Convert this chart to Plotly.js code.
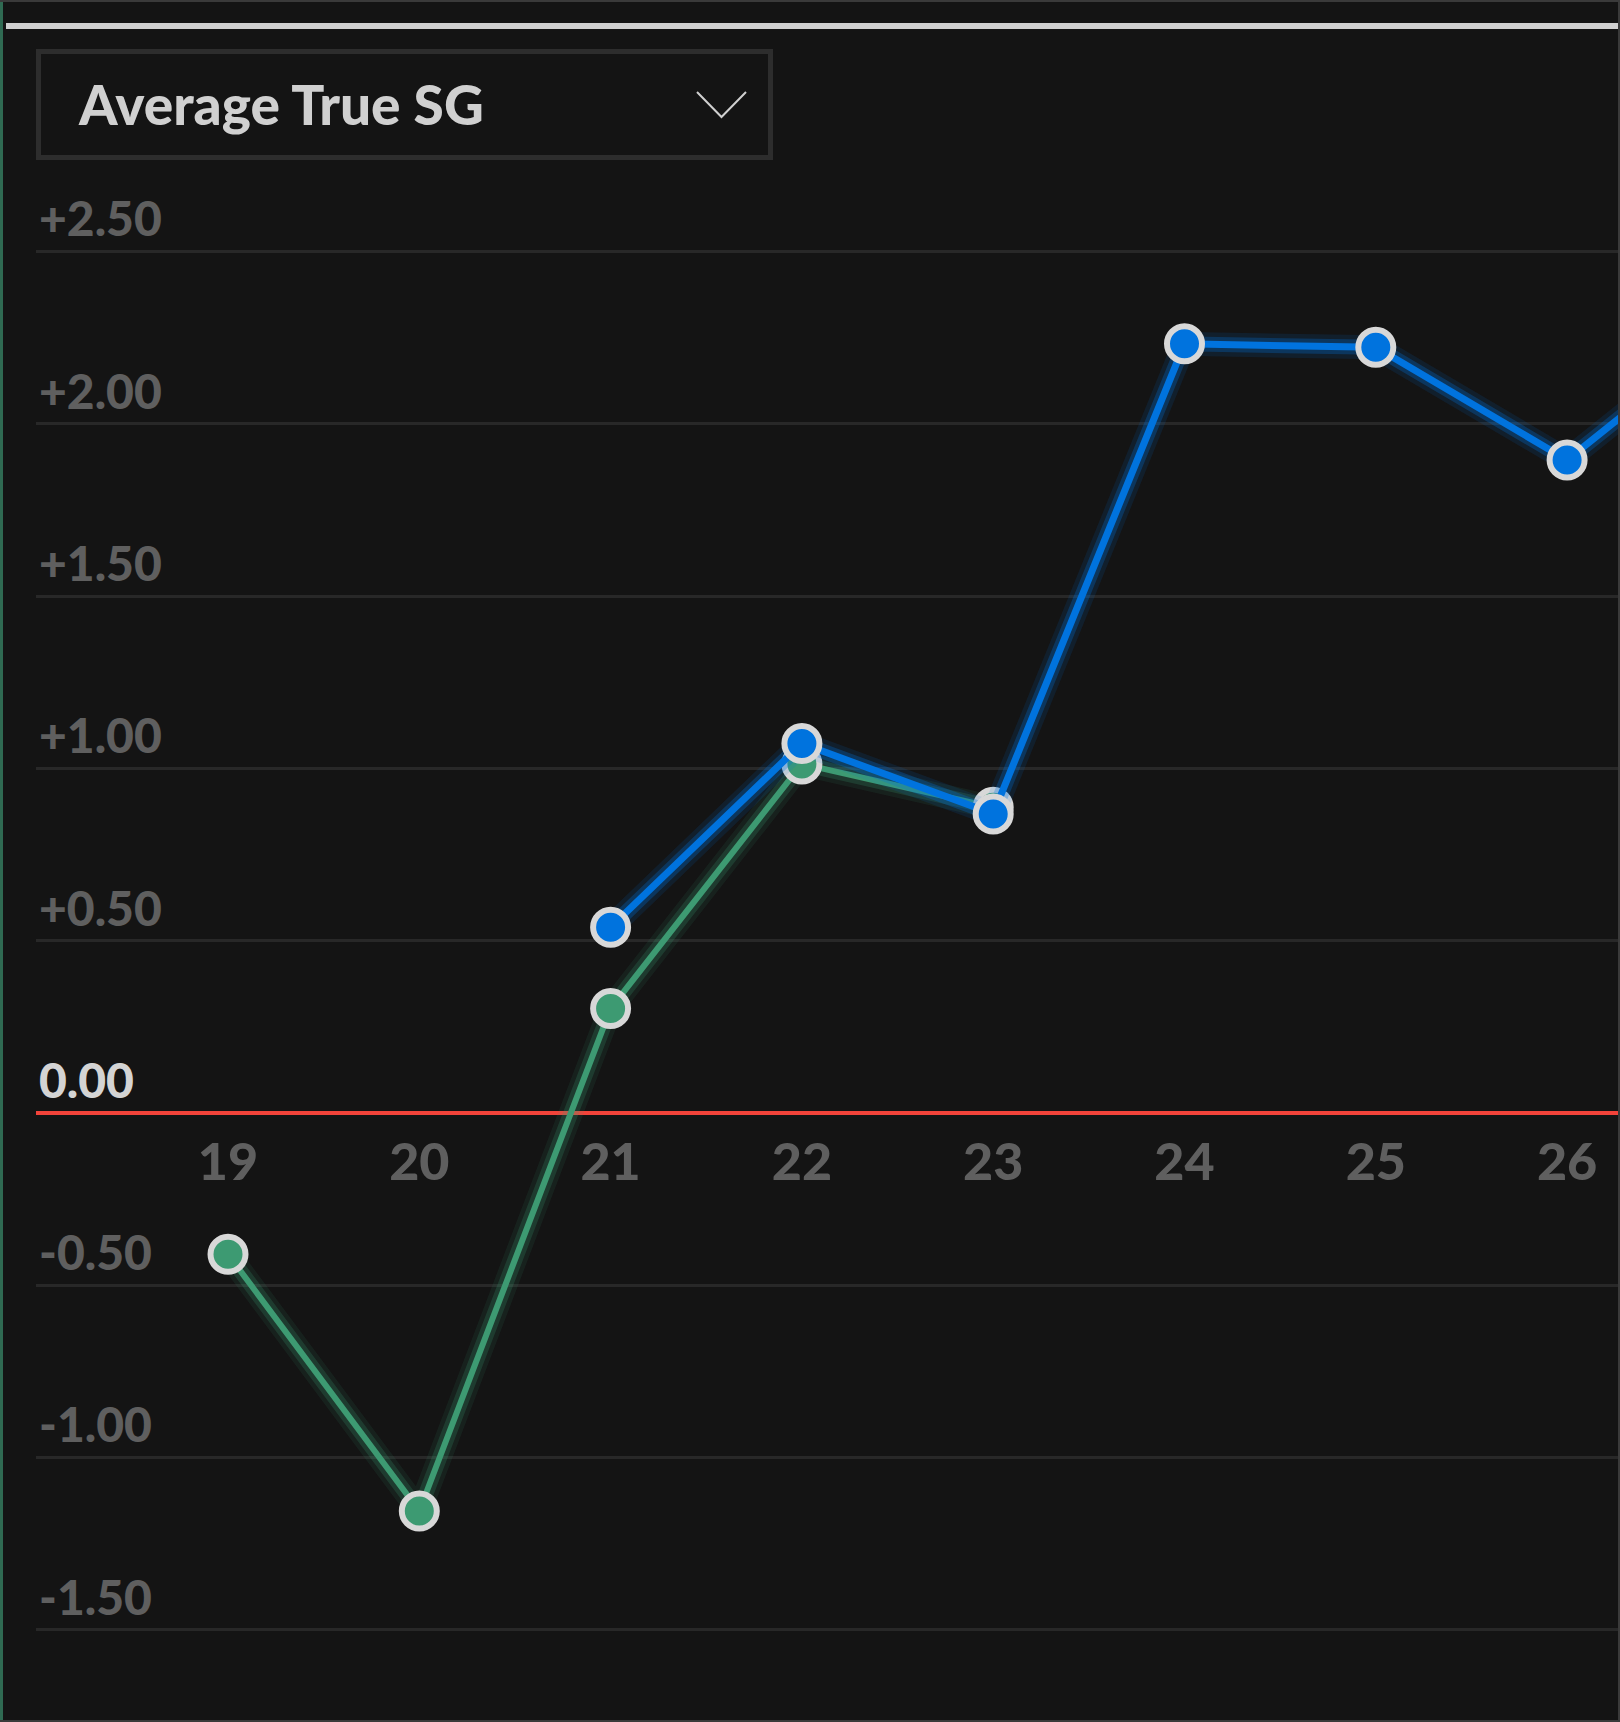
<!DOCTYPE html>
<html>
<head>
<meta charset="utf-8">
<script src="https://cdn.plot.ly/plotly-3.0.1.min.js"></script>
<style>
html,body{margin:0;padding:0;background:#141414;}
#chart{width:1620px;height:1722px;}
</style>
</head>
<body>
<div id="chart"></div>
<script>
// ---- data ----
const weeks = [19, 20, 21, 22, 23, 24, 25, 26, 27];
const xTickLabels = ['19', '20', '21', '22', '23', '24', '25', '26'];
const xTickVals = [19, 20, 21, 22, 23, 24, 25, 26];
const greenValues = [-0.41, -1.155, 0.303, 1.013, 0.887, null, null, null, null];
const blueValues = [null, null, 0.539, 1.072, 0.868, 2.232, 2.222, 1.895, 2.34];
const yTickVals = [-1.5, -1.0, -0.5, 0, 0.5, 1.0, 1.5, 2.0, 2.5];
const yTickLabels = ['-1.50', '-1.00', '-0.50', '<span style="color:#d4d4d4">0.00</span>', '+0.50', '+1.00', '+1.50', '+2.00', '+2.50'];
const dropdownLabel = 'Average True SG';

// ---- helpers for decoration in pixel space ----
const W = 1620, H = 1722;
const px = x => x / W;
const py = y => 1 - y / H;

const BLUE = '#0073de';
const GREEN = '#3d9a72';
const RING = '#d8d8d8';

function glow(vals, rgb, width, alpha) {
  return {
    x: weeks, y: vals, type: 'scatter', mode: 'lines',
    line: {color: 'rgba(' + rgb + ',' + alpha + ')', width: width},
    hoverinfo: 'skip', showlegend: false, connectgaps: false
  };
}

const traces = [
  glow(greenValues, '61,154,114', 24, 0.10),
  glow(greenValues, '61,154,114', 15, 0.22),
  {
    x: weeks, y: greenValues, type: 'scatter', mode: 'lines+markers',
    line: {color: GREEN, width: 6},
    marker: {color: GREEN, size: 35, line: {color: RING, width: 6}},
    hoverinfo: 'skip', showlegend: false, cliponaxis: true
  },
  glow(blueValues, '0,115,222', 24, 0.12),
  glow(blueValues, '0,115,222', 15, 0.28),
  {
    x: weeks, y: blueValues, type: 'scatter', mode: 'lines+markers',
    line: {color: BLUE, width: 7},
    marker: {color: BLUE, size: 35, line: {color: RING, width: 6}},
    hoverinfo: 'skip', showlegend: false, cliponaxis: true
  }
];

const layout = {
  width: W, height: H,
  margin: {l: 0, r: 0, t: 0, b: 0, pad: 0},
  paper_bgcolor: '#141414',
  plot_bgcolor: '#141414',
  showlegend: false,
  hovermode: false,
  xaxis: {
    domain: [36 / W, 1618 / W],
    range: [17.9963, 26.2661],
    anchor: 'free',
    position: 1 - 1113 / H,
    tickmode: 'array',
    tickvals: xTickVals,
    ticktext: xTickLabels,
    ticks: '',
    showgrid: false,
    zeroline: false,
    showline: false,
    ticklabelstandoff: 14,
    tickfont: {family: 'Lato', size: 52, color: '#5f5f5f', weight: 900},
    fixedrange: true
  },
  yaxis: {
    domain: [0, 1],
    range: [-1.7673, 3.2298],
    tickmode: 'array',
    tickvals: yTickVals,
    ticktext: yTickLabels,
    ticks: '',
    ticklabelposition: 'inside',
    ticklabelshift: -32,
    tickfont: {family: 'Lato', size: 48, color: '#5f5f5f', weight: 900},
    showgrid: true,
    gridcolor: '#282828',
    gridwidth: 3,
    zeroline: true,
    zerolinecolor: '#f2433a',
    zerolinewidth: 4,
    showline: false,
    fixedrange: true
  },
  shapes: [
    // top dark strip
    {type: 'rect', xref: 'paper', yref: 'paper', x0: 0, x1: 1, y0: py(2), y1: 1,
     fillcolor: '#3a3a3a', line: {width: 0}, layer: 'above'},
    // top light rule
    {type: 'rect', xref: 'paper', yref: 'paper', x0: px(6), x1: 1, y0: py(29), y1: py(23),
     fillcolor: '#d0d0d0', line: {width: 0}, layer: 'above'},
    // left green edge
    {type: 'rect', xref: 'paper', yref: 'paper', x0: 0, x1: px(3), y0: 0, y1: py(2),
     fillcolor: '#2f6a52', line: {width: 0}, layer: 'above'},
    // right grey edge
    {type: 'rect', xref: 'paper', yref: 'paper', x0: px(1618), x1: 1, y0: 0, y1: py(2),
     fillcolor: '#3a3a3a', line: {width: 0}, layer: 'above'},
    // bottom grey edge
    {type: 'rect', xref: 'paper', yref: 'paper', x0: 0, x1: 1, y0: 0, y1: py(1720),
     fillcolor: '#3a3a3a', line: {width: 0}, layer: 'above'},
    // dropdown box
    {type: 'rect', xref: 'paper', yref: 'paper', x0: px(38.5), x1: px(770.5), y0: py(157.5), y1: py(51.5),
     fillcolor: 'rgba(0,0,0,0)', line: {color: '#2d2d2d', width: 5}, layer: 'above'},
    // chevron
    {type: 'path', xref: 'paper', yref: 'paper',
     path: 'M ' + px(697) + ',' + py(92) + ' L ' + px(721.5) + ',' + py(117) + ' L ' + px(746) + ',' + py(92),
     line: {color: '#d0d0d0', width: 2}, layer: 'above'}
  ],
  annotations: [
    {xref: 'paper', yref: 'paper', x: px(76), y: py(104), xanchor: 'left', yanchor: 'middle',
     text: dropdownLabel, showarrow: false,
     font: {family: 'Lato', size: 55, color: '#d0d0d0', weight: 900}}
  ]
};

Plotly.newPlot('chart', traces, layout, {staticPlot: true, displayModeBar: false});
</script>
</body>
</html>
